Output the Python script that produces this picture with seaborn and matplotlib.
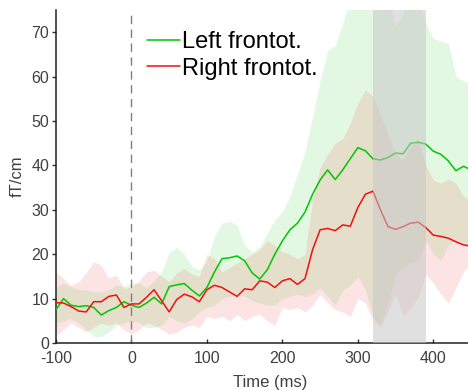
import matplotlib
matplotlib.use("Agg")
import matplotlib.pyplot as plt
import numpy as np
import pandas as pd
import seaborn as sns

# tiempo (ms), cada 10 ms
tiempo = list(range(-100, 451, 10))

left_mean = [7.5, 10.0, 8.5, 8.2, 8.4, 8.0, 6.3, 7.3, 8.0, 9.3,
             8.5, 8.0, 9.0, 10.3, 8.8, 12.7, 13.1, 13.4, 11.9, 10.6,
             12.5, 16.0, 19.0, 19.2, 19.6, 18.5, 15.8, 14.4, 16.5, 20.0,
             23.0, 25.5, 27.0, 29.5, 33.5, 36.7, 39.0, 36.8, 39.0, 41.5,
             44.0, 43.3, 41.5, 41.2, 41.8, 42.8, 42.6, 45.0, 45.2, 44.8,
             43.2, 42.5, 41.0, 38.8, 39.8, 39.0]
left_upper = [12.7, 13.5, 12.6, 12.0, 12.0, 11.5, 11.5, 12.0, 13.0, 12.8,
              13.5, 13.5, 12.5, 14.0, 16.0, 20.5, 21.5, 20.0, 17.2, 16.5,
              18.5, 24.0, 27.0, 27.5, 26.5, 22.0, 20.5, 21.7, 24.8, 27.7,
              29.6, 33.0, 38.0, 43.0, 51.0, 59.0, 66.0, 67.0, 72.0, 78.0,
              78.0, 78.0, 78.0, 78.0, 78.0, 71.5, 74.0, 78.0, 78.0, 72.0,
              68.5, 68.0, 67.5, 60.0, 59.0, 58.5]
left_lower = [4.5, 5.0, 5.5, 4.5, 3.0, 1.5, 1.5, 2.5, 4.0, 4.5,
              5.0, 4.5, 3.5, 3.5, 4.0, 6.0, 5.0, 4.5, 5.5, 7.0,
              8.0, 8.5, 10.0, 10.5, 11.0, 10.5, 9.5, 9.0, 8.5, 8.5,
              10.0, 10.5, 11.0, 10.5, 11.0, 12.5, 10.5, 8.5, 12.0, 13.0,
              15.0, 12.0, 6.0, 4.0, 9.0, 15.5, 17.0, 18.0, 18.5, 23.0,
              20.0, 18.5, 22.0, 23.2, 22.0, 21.5]

right_mean = [9.1, 9.0, 8.2, 7.2, 7.0, 9.3, 9.3, 10.5, 10.8, 8.0,
              8.8, 8.8, 10.3, 12.0, 9.5, 7.0, 9.8, 11.0, 10.4, 9.3,
              12.0, 13.0, 12.5, 11.5, 10.5, 12.2, 12.0, 14.0, 13.7, 12.5,
              14.0, 14.5, 13.2, 14.5, 21.0, 25.5, 25.8, 25.3, 26.6, 26.3,
              30.5, 33.5, 34.2, 30.0, 26.2, 25.6, 26.2, 27.0, 27.2, 26.0,
              24.3, 24.0, 23.6, 22.8, 22.1, 21.8]
right_upper = [16.0, 14.5, 13.0, 13.8, 15.8, 18.3, 17.5, 14.6, 15.3, 12.3,
               12.6, 14.0, 16.0, 16.4, 15.0, 13.8, 15.8, 16.8, 15.5, 15.0,
               20.0, 19.0, 16.0, 17.0, 18.0, 19.0, 20.0, 21.0, 23.0, 22.0,
               20.5, 20.0, 19.0, 20.0, 32.0, 39.5, 42.5, 45.0, 46.0, 49.5,
               54.0, 57.0, 55.5, 51.5, 47.0, 42.8, 41.2, 44.5, 46.0, 40.0,
               36.7, 36.0, 37.0, 36.0, 33.0, 32.2]
right_lower = [1.5, 3.0, 4.5, 3.5, 2.5, 3.5, 4.5, 4.0, 4.5, 3.0,
               2.0, 3.0, 4.5, 4.0, 3.0, 2.0, 2.5, 3.5, 4.0, 3.5,
               6.0, 5.5, 6.0, 5.0, 6.5, 5.0, 6.0, 6.5, 5.0, 4.0,
               8.0, 7.5, 8.0, 7.0, 8.5, 11.0, 9.0, 7.5, 7.0, 6.0,
               10.0, 9.0, 5.0, 3.7, 7.0, 11.0, 6.0, 8.0, 10.0, 15.5,
               13.5, 11.0, 9.0, 12.5, 16.0, 18.0]

etiquetas = ["Left frontot.", "Right frontot."]
colores = ["#00c800", "#f01010"]
ventana = (320, 390)

sns.set_style("ticks")
plt.rcParams["font.family"] = ["Liberation Sans", "DejaVu Sans"]
plt.rcParams["axes.unicode_minus"] = False

df = pd.DataFrame({
    "tiempo": tiempo * 2,
    "valor": left_mean + right_mean,
    "region": [etiquetas[0]] * len(tiempo) + [etiquetas[1]] * len(tiempo),
})

fig = plt.figure(figsize=(4.68, 3.9), dpi=100)
ax = fig.add_axes([56 / 468, 1 - 343 / 390, 1 - 56 / 468, 333 / 390])

t = np.array(tiempo)
ax.fill_between(t, left_lower, left_upper, color=colores[0], alpha=0.11,
                linewidth=0, zorder=1)
ax.fill_between(t, right_lower, right_upper, color=colores[1], alpha=0.11,
                linewidth=0, zorder=1)

sns.lineplot(data=df, x="tiempo", y="valor", hue="region",
             palette=dict(zip(etiquetas, colores)), linewidth=1.1,
             errorbar=None, ax=ax, zorder=3)

ax.axvline(0, color="#808080", linestyle=(0, (6, 4)), linewidth=1.0, zorder=2)
ax.axvspan(*ventana, color="#c8c8c8", alpha=0.55, linewidth=0, zorder=4)

ax.set_xlim(-100, 446)
ax.set_ylim(0, 75)
ax.set_xticks(range(-100, 401, 100))
ax.set_yticks(range(0, 71, 10))
ax.tick_params(axis="both", labelsize=11.5, colors="#303030",
               labelcolor="#404040", length=3, width=1)
ax.tick_params(axis="x", direction="in", pad=6)
ax.tick_params(axis="y", direction="out", pad=2)
for lado in ["top", "right"]:
    ax.spines[lado].set_visible(False)
for lado in ["left", "bottom"]:
    ax.spines[lado].set_linewidth(1.1)
    ax.spines[lado].set_color("#202020")

ax.set_xlabel("Time (ms)", fontsize=12, color="#404040")
ax.set_ylabel("fT/cm", fontsize=12, color="#404040")
ax.xaxis.set_label_coords((270 - 56) / 412, -(375 - 343) / 333)
ax.yaxis.set_label_coords(-(56 - 25) / 412, 0.5)

handles, labels = ax.get_legend_handles_labels()
ax.legend(handles, labels, loc="upper left",
          bbox_to_anchor=(147 / 468, 1 - 31 / 390),
          bbox_transform=fig.transFigure, frameon=False, fontsize=17,
          handlelength=1.4, handletextpad=0.1, labelspacing=0.2,
          borderpad=0, borderaxespad=0, labelcolor="black")

fig.savefig("out.png", dpi=100)
